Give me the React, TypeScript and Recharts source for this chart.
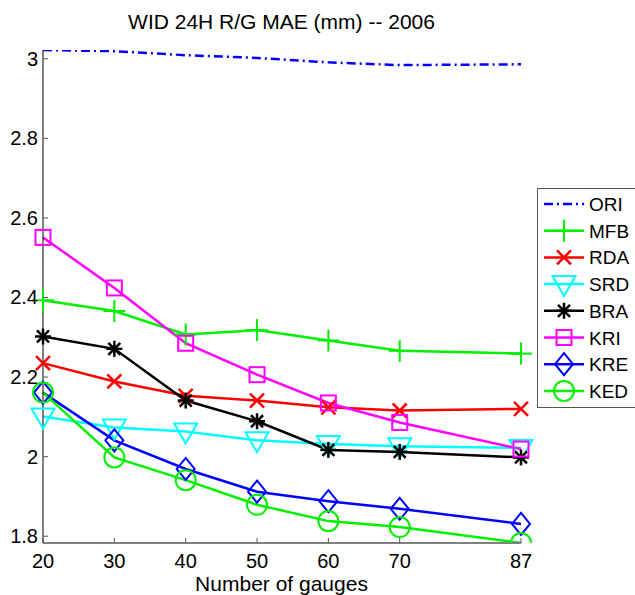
import React from "react";
import { LineChart, Line, XAxis, YAxis } from "recharts";

// number of gauges used
const gauges = [20, 30, 40, 50, 60, 70, 87];

// MAE per method (mm)
const ori = [3.022, 3.019, 3.009, 3.002, 2.991, 2.984, 2.986];
const mfb = [2.393, 2.366, 2.307, 2.318, 2.292, 2.266, 2.259];
const rda = [2.235, 2.189, 2.153, 2.141, 2.124, 2.116, 2.12];
const srd = [2.101, 2.073, 2.063, 2.041, 2.032, 2.026, 2.022];
const bra = [2.302, 2.271, 2.141, 2.089, 2.017, 2.012, 1.998];
const kri = [2.551, 2.424, 2.285, 2.206, 2.135, 2.086, 2.019];
const kre = [2.161, 2.041, 1.969, 1.912, 1.888, 1.869, 1.831];
const ked = [2.161, 1.998, 1.941, 1.879, 1.838, 1.823, 1.783];

const yTicks = [1.8, 2, 2.2, 2.4, 2.6, 2.8, 3];

const FONT = "'Liberation Sans', Arial, Helvetica, sans-serif";

type Shape = "none" | "plus" | "x" | "tri" | "star" | "square" | "diamond" | "circle";

const series: { key: string; color: string; shape: Shape; values: number[] }[] = [
  { key: "ORI", color: "#0000ff", shape: "none", values: ori },
  { key: "MFB", color: "#00f000", shape: "plus", values: mfb },
  { key: "RDA", color: "#ff0000", shape: "x", values: rda },
  { key: "SRD", color: "#00ffff", shape: "tri", values: srd },
  { key: "BRA", color: "#000000", shape: "star", values: bra },
  { key: "KRI", color: "#ff00ff", shape: "square", values: kri },
  { key: "KRE", color: "#0000ff", shape: "diamond", values: kre },
  { key: "KED", color: "#00f000", shape: "circle", values: ked },
];

const data = gauges.map((g, i) => {
  const row: Record<string, number> = { gauges: g };
  series.forEach((s) => (row[s.key] = s.values[i]));
  return row;
});

const allVals = series.flatMap((s) => s.values);
const yMin = Math.min(...allVals);
const yMax = Math.max(...allVals);

function marker(shape: Shape, cx: number, cy: number, color: string, key?: string) {
  const p = { stroke: color, strokeWidth: 2, fill: "none" };
  switch (shape) {
    case "plus":
      return (
        <g key={key} {...p}>
          <line x1={cx - 11} y1={cy} x2={cx + 11} y2={cy} />
          <line x1={cx} y1={cy - 11} x2={cx} y2={cy + 11} />
        </g>
      );
    case "x":
      return (
        <g key={key} {...p} strokeWidth={2.5}>
          <line x1={cx - 7} y1={cy - 7} x2={cx + 7} y2={cy + 7} />
          <line x1={cx - 7} y1={cy + 7} x2={cx + 7} y2={cy - 7} />
        </g>
      );
    case "tri":
      return (
        <polygon key={key} {...p} points={`${cx - 11.5},${cy - 8} ${cx + 11.5},${cy - 8} ${cx},${cy + 12}`} />
      );
    case "star":
      return (
        <g key={key} {...p} strokeWidth={2.5}>
          <line x1={cx - 8} y1={cy} x2={cx + 8} y2={cy} />
          <line x1={cx} y1={cy - 8} x2={cx} y2={cy + 8} />
          <line x1={cx - 6} y1={cy - 6} x2={cx + 6} y2={cy + 6} />
          <line x1={cx - 6} y1={cy + 6} x2={cx + 6} y2={cy - 6} />
        </g>
      );
    case "square":
      return <rect key={key} {...p} x={cx - 7.5} y={cy - 7.5} width={15} height={15} />;
    case "diamond":
      return (
        <polygon key={key} {...p} points={`${cx},${cy - 11} ${cx + 9},${cy} ${cx},${cy + 11} ${cx - 9},${cy}`} />
      );
    case "circle":
      return <circle key={key} {...p} cx={cx} cy={cy} r={10} />;
    default:
      return <g key={key} />;
  }
}

const makeDot = (shape: Shape, color: string, name: string) => (props: any) =>
  marker(shape, props.cx, props.cy, color, `${name}-${props.index}`);

const YTick = (props: any) => {
  const { x, y, payload } = props;
  return (
    <g>
      <line x1={x} y1={y} x2={x + 5} y2={y} stroke="#555" />
      <text x={x - 5} y={y + 7} textAnchor="end" fontSize={20} fontFamily={FONT} fill="#000">
        {String(payload.value)}
      </text>
    </g>
  );
};

const XTick = (props: any) => {
  const { x, y, payload } = props;
  return (
    <g>
      <line x1={x} y1={y} x2={x} y2={y - 5} stroke="#555" />
      <text x={x} y={y + 25} textAnchor="middle" fontSize={20} fontFamily={FONT} fill="#000">
        {String(payload.value)}
      </text>
    </g>
  );
};

function LegendBox() {
  return (
    <div
      style={{
        position: "absolute",
        left: 537,
        top: 188,
        width: 110,
        height: 218,
        border: "1px solid #555",
        background: "#fff",
      }}
    >
      <svg width={110} height={218}>
        {series.map((s, i) => {
          const y = 15 + i * 26.7;
          return (
            <g key={s.key}>
              <line
                x1={6}
                y1={y}
                x2={46}
                y2={y}
                stroke={s.color}
                strokeWidth={2.5}
                strokeDasharray={s.shape === "none" ? "9 4 2 4" : undefined}
              />
              {marker(s.shape, 26, y, s.color)}
              <text x={51} y={y + 7} fontSize={19} fontFamily={FONT} fill="#000">
                {s.key}
              </text>
            </g>
          );
        })}
      </svg>
    </div>
  );
}

export default function App() {
  return (
    <div style={{ position: "relative", width: 635, height: 595, overflow: "hidden", background: "#fff" }}>
      <style>{"body{margin:0}"}</style>
      <div
        style={{
          position: "absolute",
          left: 0,
          width: 563,
          top: 10,
          textAlign: "center",
          fontFamily: FONT,
          fontSize: 21,
        }}
      >
        WID 24H R/G MAE (mm) -- 2006
      </div>
      <LineChart width={635} height={595} data={data} margin={{ top: 50, right: 114, bottom: 0, left: 0 }}>
        <XAxis
          dataKey="gauges"
          type="number"
          domain={[20, 87]}
          ticks={gauges}
          height={52}
          tickSize={0}
          tickMargin={0}
          tick={<XTick />}
          axisLine={{ stroke: "#808080", strokeWidth: 2 }}
          tickLine={false}
        />
        <YAxis
          type="number"
          domain={[yMin, yMax]}
          ticks={yTicks}
          width={43}
          tickSize={0}
          tickMargin={0}
          tick={<YTick />}
          axisLine={{ stroke: "#000", strokeWidth: 1 }}
          tickLine={false}
          allowDataOverflow
        />
        {series.map((s) => (
          <Line
            key={s.key}
            dataKey={s.key}
            type="linear"
            stroke={s.color}
            strokeWidth={2.5}
            strokeDasharray={s.shape === "none" ? "9 4 2 4" : undefined}
            dot={s.shape === "none" ? false : makeDot(s.shape, s.color, s.key)}
            activeDot={false}
            isAnimationActive={false}
          />
        ))}
      </LineChart>
      <div
        style={{
          position: "absolute",
          left: 0,
          width: 563,
          top: 572,
          textAlign: "center",
          fontFamily: FONT,
          fontSize: 21,
        }}
      >
        Number of gauges
      </div>
      <LegendBox />
    </div>
  );
}
